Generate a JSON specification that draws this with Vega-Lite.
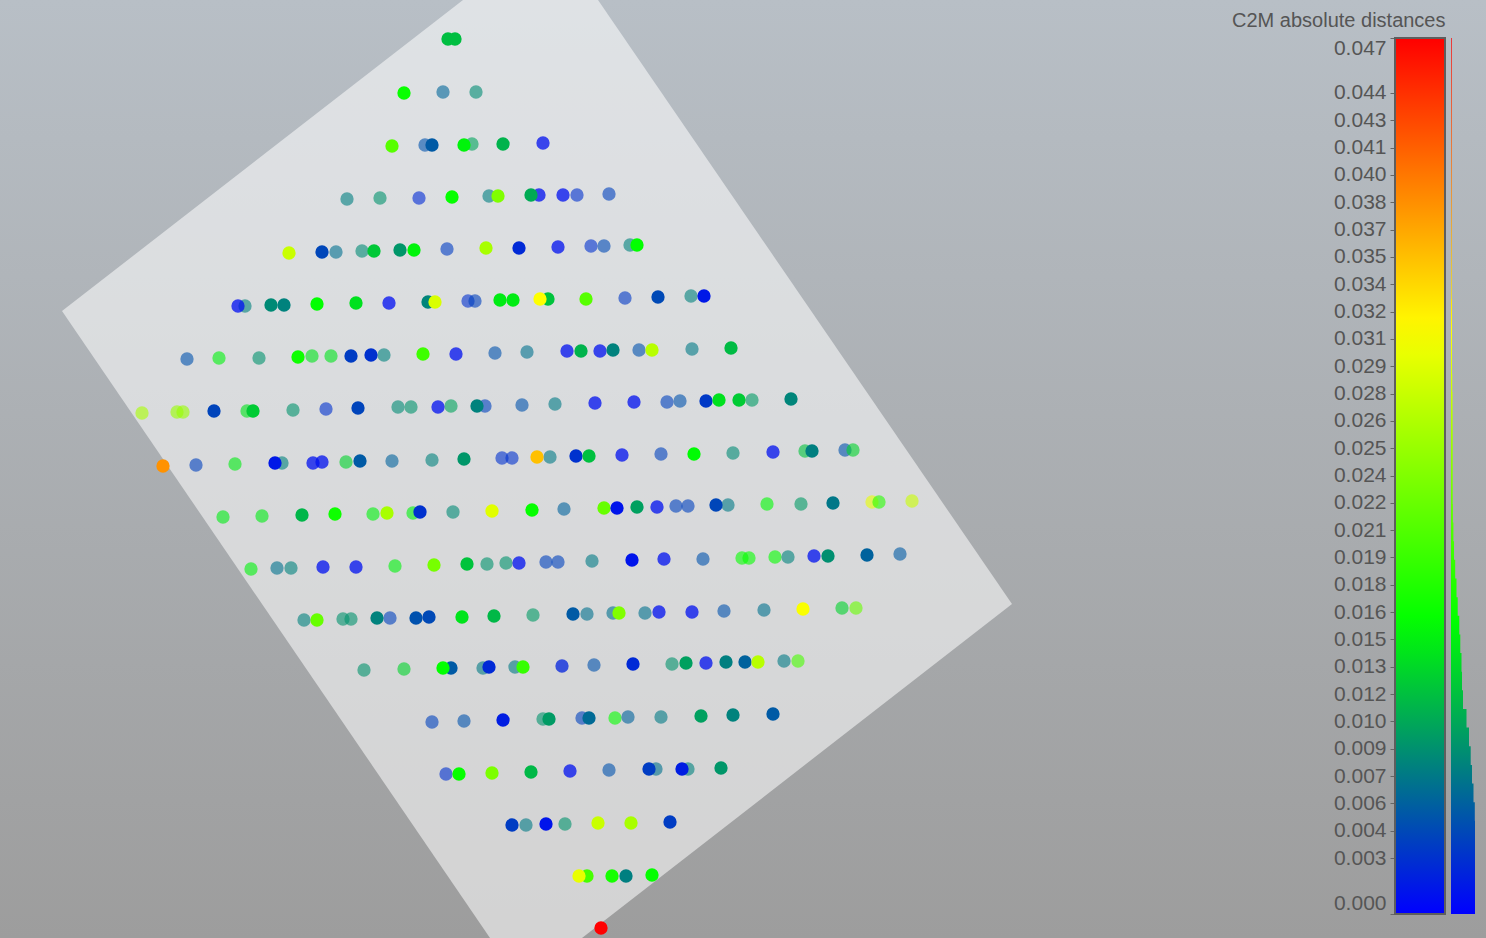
{
  "$schema": "https://vega.github.io/schema/vega-lite/v6.json",
  "width": 1486,
  "height": 938,
  "padding": 0,
  "autosize": {"type": "none"},
  "background": "#aeb2b6",
  "view": {
    "stroke": null,
    "fill": {"gradient": "linear", "x1": 0, "y1": 0, "x2": 0, "y2": 1,
      "stops": [{"offset": 0, "color": "#b8bfc6"}, {"offset": 1, "color": "#9d9d9d"}]}
  },
  "config": {"font": "Liberation Sans", "view": {"stroke": null}},
  "datasets": {
    "pts": [
      {"x":448,"y":39,"d":0.0117,"side":"front"},{"x":455,"y":39,"d":0.0117,"side":"front"},
      {"x":404,"y":93,"d":0.0162,"side":"front"},{"x":443,"y":92,"d":0.0062,"side":"behind"},{"x":476,"y":92,"d":0.0086,"side":"behind"},
      {"x":392,"y":146,"d":0.021,"side":"front"},{"x":425,"y":145,"d":0.005,"side":"behind"},{"x":432,"y":145,"d":0.0055,"side":"front"},{"x":472,"y":144,"d":0.01,"side":"behind"},{"x":464,"y":145,"d":0.015,"side":"front"},{"x":503,"y":144,"d":0.011,"side":"front"},{"x":543,"y":143,"d":0.001,"side":"onplane"},
      {"x":347,"y":199,"d":0.0078,"side":"behind"},{"x":380,"y":198,"d":0.009,"side":"behind"},{"x":419,"y":198,"d":0.0025,"side":"behind"},{"x":452,"y":197,"d":0.016,"side":"front"},{"x":489,"y":196,"d":0.0078,"side":"behind"},{"x":498,"y":196,"d":0.0235,"side":"front"},{"x":539,"y":195,"d":0.001,"side":"onplane"},{"x":531,"y":195,"d":0.0105,"side":"front"},{"x":563,"y":195,"d":0.001,"side":"onplane"},{"x":577,"y":195,"d":0.003,"side":"behind"},{"x":609,"y":194,"d":0.004,"side":"behind"},
      {"x":289,"y":253,"d":0.028,"side":"front"},{"x":322,"y":252,"d":0.0043,"side":"front"},{"x":336,"y":252,"d":0.0068,"side":"behind"},{"x":362,"y":251,"d":0.0085,"side":"behind"},{"x":374,"y":251,"d":0.0123,"side":"front"},{"x":400,"y":250,"d":0.0092,"side":"front"},{"x":414,"y":250,"d":0.015,"side":"front"},{"x":447,"y":249,"d":0.0037,"side":"behind"},{"x":486,"y":248,"d":0.026,"side":"front"},{"x":519,"y":248,"d":0.0025,"side":"front"},{"x":558,"y":247,"d":0.001,"side":"onplane"},{"x":591,"y":246,"d":0.003,"side":"behind"},{"x":604,"y":246,"d":0.0045,"side":"behind"},{"x":630,"y":245,"d":0.008,"side":"behind"},{"x":637,"y":245,"d":0.0158,"side":"front"},
      {"x":245,"y":306,"d":0.008,"side":"behind"},{"x":238,"y":306,"d":0.0008,"side":"onplane"},{"x":271,"y":305,"d":0.0085,"side":"front"},{"x":284,"y":305,"d":0.008,"side":"front"},{"x":317,"y":304,"d":0.0158,"side":"front"},{"x":356,"y":303,"d":0.0138,"side":"front"},{"x":389,"y":303,"d":0.0008,"side":"onplane"},{"x":428,"y":302,"d":0.0082,"side":"front"},{"x":435,"y":302,"d":0.029,"side":"front"},{"x":468,"y":301,"d":0.003,"side":"behind"},{"x":475,"y":301,"d":0.004,"side":"behind"},{"x":500,"y":300,"d":0.0145,"side":"front"},{"x":513,"y":300,"d":0.0145,"side":"front"},{"x":548,"y":299,"d":0.012,"side":"front"},{"x":540,"y":299,"d":0.0313,"side":"front"},{"x":586,"y":299,"d":0.021,"side":"front"},{"x":625,"y":298,"d":0.0035,"side":"behind"},{"x":658,"y":297,"d":0.0045,"side":"front"},{"x":691,"y":296,"d":0.008,"side":"behind"},{"x":704,"y":296,"d":0.0015,"side":"front"},
      {"x":187,"y":359,"d":0.005,"side":"behind"},{"x":219,"y":358,"d":0.015,"side":"behind"},{"x":259,"y":358,"d":0.009,"side":"behind"},{"x":312,"y":356,"d":0.014,"side":"behind"},{"x":298,"y":357,"d":0.0165,"side":"front"},{"x":331,"y":356,"d":0.014,"side":"behind"},{"x":351,"y":356,"d":0.0037,"side":"front"},{"x":384,"y":355,"d":0.008,"side":"behind"},{"x":371,"y":355,"d":0.003,"side":"front"},{"x":423,"y":354,"d":0.0195,"side":"front"},{"x":456,"y":354,"d":0.001,"side":"onplane"},{"x":495,"y":353,"d":0.005,"side":"behind"},{"x":527,"y":352,"d":0.007,"side":"behind"},{"x":567,"y":351,"d":0.001,"side":"onplane"},{"x":581,"y":351,"d":0.011,"side":"front"},{"x":600,"y":351,"d":0.001,"side":"onplane"},{"x":613,"y":350,"d":0.008,"side":"front"},{"x":639,"y":350,"d":0.005,"side":"behind"},{"x":652,"y":350,"d":0.027,"side":"front"},{"x":692,"y":349,"d":0.0075,"side":"behind"},{"x":731,"y":348,"d":0.0115,"side":"front"},
      {"x":142,"y":413,"d":0.026,"side":"behind"},{"x":177,"y":412,"d":0.025,"side":"behind"},{"x":183,"y":412,"d":0.025,"side":"behind"},{"x":214,"y":411,"d":0.0042,"side":"front"},{"x":247,"y":411,"d":0.014,"side":"behind"},{"x":253,"y":411,"d":0.0125,"side":"front"},{"x":293,"y":410,"d":0.009,"side":"behind"},{"x":326,"y":409,"d":0.003,"side":"behind"},{"x":358,"y":408,"d":0.0042,"side":"front"},{"x":398,"y":407,"d":0.0085,"side":"behind"},{"x":411,"y":407,"d":0.009,"side":"behind"},{"x":438,"y":407,"d":0.001,"side":"onplane"},{"x":451,"y":406,"d":0.01,"side":"behind"},{"x":485,"y":406,"d":0.004,"side":"behind"},{"x":477,"y":406,"d":0.008,"side":"front"},{"x":522,"y":405,"d":0.005,"side":"behind"},{"x":555,"y":404,"d":0.0075,"side":"behind"},{"x":595,"y":403,"d":0.001,"side":"onplane"},{"x":634,"y":402,"d":0.001,"side":"onplane"},{"x":667,"y":402,"d":0.004,"side":"behind"},{"x":680,"y":401,"d":0.005,"side":"behind"},{"x":706,"y":401,"d":0.0035,"side":"front"},{"x":719,"y":400,"d":0.0138,"side":"front"},{"x":739,"y":400,"d":0.0125,"side":"front"},{"x":752,"y":400,"d":0.0095,"side":"behind"},{"x":791,"y":399,"d":0.0082,"side":"front"},
      {"x":163,"y":466,"d":0.038,"side":"front"},{"x":196,"y":465,"d":0.004,"side":"behind"},{"x":235,"y":464,"d":0.0145,"side":"behind"},{"x":282,"y":463,"d":0.008,"side":"behind"},{"x":275,"y":463,"d":0.0015,"side":"front"},{"x":313,"y":463,"d":0.001,"side":"onplane"},{"x":322,"y":462,"d":0.001,"side":"onplane"},{"x":346,"y":462,"d":0.013,"side":"behind"},{"x":360,"y":461,"d":0.0055,"side":"front"},{"x":392,"y":461,"d":0.006,"side":"behind"},{"x":432,"y":460,"d":0.008,"side":"behind"},{"x":464,"y":459,"d":0.0092,"side":"front"},{"x":502,"y":458,"d":0.003,"side":"behind"},{"x":512,"y":458,"d":0.003,"side":"behind"},{"x":550,"y":457,"d":0.0075,"side":"behind"},{"x":537,"y":457,"d":0.0352,"side":"front"},{"x":576,"y":456,"d":0.003,"side":"front"},{"x":589,"y":456,"d":0.0118,"side":"front"},{"x":622,"y":455,"d":0.001,"side":"onplane"},{"x":661,"y":454,"d":0.004,"side":"behind"},{"x":694,"y":454,"d":0.0155,"side":"front"},{"x":733,"y":453,"d":0.0085,"side":"behind"},{"x":773,"y":452,"d":0.001,"side":"onplane"},{"x":805,"y":451,"d":0.012,"side":"behind"},{"x":812,"y":451,"d":0.0078,"side":"front"},{"x":845,"y":450,"d":0.005,"side":"behind"},{"x":853,"y":450,"d":0.013,"side":"behind"},
      {"x":223,"y":517,"d":0.0145,"side":"behind"},{"x":262,"y":516,"d":0.0145,"side":"behind"},{"x":302,"y":515,"d":0.0112,"side":"front"},{"x":335,"y":514,"d":0.0165,"side":"front"},{"x":373,"y":514,"d":0.015,"side":"behind"},{"x":387,"y":513,"d":0.026,"side":"front"},{"x":413,"y":513,"d":0.015,"side":"behind"},{"x":420,"y":512,"d":0.003,"side":"front"},{"x":453,"y":512,"d":0.0085,"side":"behind"},{"x":492,"y":511,"d":0.0295,"side":"front"},{"x":532,"y":510,"d":0.016,"side":"front"},{"x":564,"y":509,"d":0.006,"side":"behind"},{"x":604,"y":508,"d":0.022,"side":"front"},{"x":617,"y":508,"d":0.0012,"side":"front"},{"x":637,"y":507,"d":0.0098,"side":"front"},{"x":657,"y":507,"d":0.001,"side":"onplane"},{"x":676,"y":506,"d":0.004,"side":"behind"},{"x":688,"y":506,"d":0.004,"side":"behind"},{"x":728,"y":505,"d":0.0075,"side":"behind"},{"x":716,"y":505,"d":0.0043,"side":"front"},{"x":767,"y":504,"d":0.0155,"side":"behind"},{"x":801,"y":504,"d":0.0095,"side":"behind"},{"x":833,"y":503,"d":0.0073,"side":"front"},{"x":872,"y":502,"d":0.03,"side":"behind"},{"x":879,"y":502,"d":0.018,"side":"behind"},{"x":912,"y":501,"d":0.028,"side":"behind"},
      {"x":251,"y":569,"d":0.015,"side":"behind"},{"x":277,"y":568,"d":0.007,"side":"behind"},{"x":291,"y":568,"d":0.008,"side":"behind"},{"x":323,"y":567,"d":0.001,"side":"onplane"},{"x":356,"y":567,"d":0.001,"side":"onplane"},{"x":395,"y":566,"d":0.015,"side":"behind"},{"x":434,"y":565,"d":0.023,"side":"front"},{"x":467,"y":564,"d":0.012,"side":"front"},{"x":487,"y":564,"d":0.009,"side":"behind"},{"x":506,"y":563,"d":0.009,"side":"behind"},{"x":519,"y":563,"d":0.001,"side":"onplane"},{"x":546,"y":562,"d":0.004,"side":"behind"},{"x":558,"y":562,"d":0.004,"side":"behind"},{"x":592,"y":561,"d":0.0075,"side":"behind"},{"x":632,"y":560,"d":0.0012,"side":"front"},{"x":664,"y":559,"d":0.001,"side":"onplane"},{"x":703,"y":559,"d":0.005,"side":"behind"},{"x":742,"y":558,"d":0.016,"side":"behind"},{"x":749,"y":558,"d":0.016,"side":"behind"},{"x":775,"y":557,"d":0.016,"side":"behind"},{"x":788,"y":557,"d":0.008,"side":"behind"},{"x":814,"y":556,"d":0.001,"side":"onplane"},{"x":828,"y":556,"d":0.0088,"side":"front"},{"x":867,"y":555,"d":0.006,"side":"front"},{"x":900,"y":554,"d":0.0055,"side":"behind"},
      {"x":304,"y":620,"d":0.008,"side":"behind"},{"x":317,"y":620,"d":0.022,"side":"front"},{"x":343,"y":619,"d":0.009,"side":"behind"},{"x":351,"y":619,"d":0.009,"side":"behind"},{"x":390,"y":618,"d":0.004,"side":"behind"},{"x":377,"y":618,"d":0.008,"side":"front"},{"x":416,"y":618,"d":0.005,"side":"front"},{"x":429,"y":617,"d":0.0045,"side":"front"},{"x":462,"y":617,"d":0.014,"side":"front"},{"x":494,"y":616,"d":0.0113,"side":"front"},{"x":533,"y":615,"d":0.0095,"side":"behind"},{"x":587,"y":614,"d":0.007,"side":"behind"},{"x":573,"y":614,"d":0.0055,"side":"front"},{"x":613,"y":613,"d":0.007,"side":"behind"},{"x":619,"y":613,"d":0.0235,"side":"front"},{"x":645,"y":613,"d":0.007,"side":"behind"},{"x":659,"y":612,"d":0.001,"side":"onplane"},{"x":692,"y":612,"d":0.001,"side":"onplane"},{"x":724,"y":611,"d":0.005,"side":"behind"},{"x":764,"y":610,"d":0.007,"side":"behind"},{"x":803,"y":609,"d":0.031,"side":"front"},{"x":842,"y":608,"d":0.013,"side":"behind"},{"x":856,"y":608,"d":0.022,"side":"behind"},
      {"x":364,"y":670,"d":0.009,"side":"behind"},{"x":404,"y":669,"d":0.013,"side":"behind"},{"x":451,"y":668,"d":0.0055,"side":"front"},{"x":443,"y":668,"d":0.0158,"side":"front"},{"x":483,"y":668,"d":0.0075,"side":"behind"},{"x":489,"y":667,"d":0.0025,"side":"front"},{"x":515,"y":667,"d":0.0075,"side":"behind"},{"x":523,"y":667,"d":0.019,"side":"front"},{"x":562,"y":666,"d":0.002,"side":"onplane"},{"x":594,"y":665,"d":0.005,"side":"behind"},{"x":633,"y":664,"d":0.0025,"side":"front"},{"x":672,"y":664,"d":0.009,"side":"behind"},{"x":686,"y":663,"d":0.0098,"side":"front"},{"x":706,"y":663,"d":0.001,"side":"onplane"},{"x":726,"y":662,"d":0.0078,"side":"front"},{"x":745,"y":662,"d":0.006,"side":"front"},{"x":758,"y":662,"d":0.027,"side":"front"},{"x":784,"y":661,"d":0.0075,"side":"behind"},{"x":798,"y":661,"d":0.02,"side":"behind"},
      {"x":432,"y":722,"d":0.004,"side":"behind"},{"x":464,"y":721,"d":0.005,"side":"behind"},{"x":503,"y":720,"d":0.0018,"side":"front"},{"x":543,"y":719,"d":0.009,"side":"behind"},{"x":549,"y":719,"d":0.0095,"side":"front"},{"x":582,"y":718,"d":0.004,"side":"behind"},{"x":589,"y":718,"d":0.0065,"side":"front"},{"x":615,"y":718,"d":0.016,"side":"behind"},{"x":628,"y":717,"d":0.006,"side":"behind"},{"x":661,"y":717,"d":0.0075,"side":"behind"},{"x":701,"y":716,"d":0.0098,"side":"front"},{"x":733,"y":715,"d":0.008,"side":"front"},{"x":773,"y":714,"d":0.0055,"side":"front"},
      {"x":446,"y":774,"d":0.003,"side":"behind"},{"x":459,"y":774,"d":0.016,"side":"front"},{"x":492,"y":773,"d":0.0233,"side":"front"},{"x":531,"y":772,"d":0.0113,"side":"front"},{"x":570,"y":771,"d":0.001,"side":"onplane"},{"x":609,"y":770,"d":0.005,"side":"behind"},{"x":656,"y":769,"d":0.007,"side":"behind"},{"x":649,"y":769,"d":0.0037,"side":"front"},{"x":688,"y":769,"d":0.008,"side":"behind"},{"x":682,"y":769,"d":0.0018,"side":"front"},{"x":721,"y":768,"d":0.0092,"side":"front"},
      {"x":526,"y":825,"d":0.0075,"side":"behind"},{"x":512,"y":825,"d":0.0037,"side":"front"},{"x":546,"y":824,"d":0.0012,"side":"front"},{"x":565,"y":824,"d":0.009,"side":"behind"},{"x":598,"y":823,"d":0.028,"side":"front"},{"x":631,"y":823,"d":0.026,"side":"front"},{"x":670,"y":822,"d":0.0037,"side":"front"},
      {"x":587,"y":876,"d":0.02,"side":"front"},{"x":579,"y":876,"d":0.03,"side":"front"},{"x":612,"y":876,"d":0.017,"side":"front"},{"x":626,"y":876,"d":0.0078,"side":"front"},{"x":652,"y":875,"d":0.016,"side":"front"},
      {"x":601,"y":928,"d":0.047,"side":"front"}
    ],
    "plane": [
      {"i":0,"x":62,"y":311},{"i":1,"x":463,"y":0},{"i":2,"x":598,"y":0},{"i":3,"x":1012,"y":604},{"i":4,"x":582,"y":938},{"i":5,"x":490,"y":938},{"i":6,"x":62,"y":311}
    ],
    "hist": [
      {"b0":0,"n":240},{"b0":0.001,"n":240},{"b0":0.002,"n":240},{"b0":0.003,"n":240},{"b0":0.004,"n":240},{"b0":0.005,"n":238},{"b0":0.006,"n":225},{"b0":0.007,"n":210},{"b0":0.008,"n":197},{"b0":0.009,"n":180},
      {"b0":0.01,"n":155},{"b0":0.011,"n":120},{"b0":0.012,"n":110},{"b0":0.013,"n":105},{"b0":0.014,"n":93},{"b0":0.015,"n":83},{"b0":0.016,"n":67},{"b0":0.017,"n":55},{"b0":0.018,"n":42},{"b0":0.019,"n":30},
      {"b0":0.02,"n":24},{"b0":0.021,"n":19},{"b0":0.022,"n":17},{"b0":0.023,"n":17},{"b0":0.024,"n":17},{"b0":0.025,"n":17},{"b0":0.026,"n":16},{"b0":0.027,"n":15},{"b0":0.028,"n":12},{"b0":0.029,"n":10},
      {"b0":0.03,"n":10},{"b0":0.031,"n":10},{"b0":0.032,"n":10},{"b0":0.033,"n":7},{"b0":0.034,"n":7},{"b0":0.035,"n":7},{"b0":0.036,"n":7},{"b0":0.037,"n":7},{"b0":0.038,"n":7},{"b0":0.039,"n":7},
      {"b0":0.04,"n":7},{"b0":0.041,"n":7},{"b0":0.042,"n":7},{"b0":0.043,"n":7},{"b0":0.044,"n":7},{"b0":0.045,"n":7},{"b0":0.046,"n":7},{"b0":0.047,"n":7}
    ]
  },
  "layer": [
    {
      "data": {"name": "plane"},
      "mark": {"type": "line", "fill": "#ffffff", "fillOpacity": 0.55, "strokeOpacity": 0, "strokeWidth": 0},
      "encoding": {
        "x": {"field": "x", "type": "quantitative", "scale": {"domain": [0, 1486], "nice": false, "zero": false}, "axis": null},
        "y": {"field": "y", "type": "quantitative", "scale": {"domain": [0, 938], "reverse": true, "nice": false, "zero": false}, "axis": null},
        "order": {"field": "i", "type": "quantitative"}
      }
    },
    {
      "data": {"name": "pts"},
      "transform": [{"filter": "datum.side == 'behind'"}],
      "mark": {"type": "circle", "size": 177, "opacity": 1, "fillOpacity": 0.6},
      "encoding": {
        "x": {"field": "x", "type": "quantitative", "scale": {"domain": [0, 1486], "nice": false, "zero": false}, "axis": null},
        "y": {"field": "y", "type": "quantitative", "scale": {"domain": [0, 938], "reverse": true, "nice": false, "zero": false}, "axis": null},
        "color": {"field": "d", "type": "quantitative",
          "scale": {"type": "linear", "domain": [0, 0.015667, 0.031333, 0.047], "range": ["#0000ff", "#00ff00", "#ffff00", "#ff0000"], "interpolate": "rgb"},
          "legend": null}
      }
    },
    {
      "data": {"name": "pts"},
      "transform": [{"filter": "datum.side != 'behind'"}],
      "mark": {"type": "circle", "size": 177, "opacity": 1},
      "encoding": {
        "x": {"field": "x", "type": "quantitative", "scale": {"domain": [0, 1486], "nice": false, "zero": false}, "axis": null},
        "y": {"field": "y", "type": "quantitative", "scale": {"domain": [0, 938], "reverse": true, "nice": false, "zero": false}, "axis": null},
        "color": {"field": "d", "type": "quantitative",
          "scale": {"type": "linear", "domain": [0, 0.015667, 0.031333, 0.047], "range": ["#0000ff", "#00ff00", "#ffff00", "#ff0000"], "interpolate": "rgb"},
          "legend": {"type": "gradient", "orient": "none", "legendX": 1395, "legendY": 38, "direction": "vertical", "gradientLength": 876, "gradientThickness": 50, "gradientStrokeColor": "#5e5e5e", "gradientStrokeWidth": 2, "title": null, "labelOpacity": 0, "labelExpr": "''", "padding": 0}},
        "opacity": {"field": "side", "type": "nominal", "scale": {"domain": ["front", "onplane"], "range": [1, 0.75]}, "legend": null}
      }
    },
    {
      "data": {"name": "hist"},
      "mark": {"type": "area", "orient": "horizontal", "interpolate": "step-after",
        "fill": {"gradient": "linear", "x1": 0, "y1": 1, "x2": 0, "y2": 0,
          "stops": [{"offset": 0, "color": "#0000ff"}, {"offset": 0.3333, "color": "#00ff00"}, {"offset": 0.6667, "color": "#ffff00"}, {"offset": 1, "color": "#ff0000"}]}},
      "encoding": {
        "x": {"field": "n", "type": "quantitative", "scale": {"domain": [-14510, 350], "nice": false, "zero": false}, "axis": null},
        "x2": {"datum": 0},
        "y": {"field": "b0", "type": "quantitative",
          "scale": {"domain": [-0.001288, 0.049038], "nice": false, "zero": false},
          "axis": {
            "orient": "left", "offset": -1395, "domain": false, "grid": false,
            "values": [0, 0.003002, 0.004468, 0.005934, 0.0074, 0.008866, 0.010332, 0.011798, 0.013264, 0.01473, 0.016196, 0.017662, 0.019128, 0.020594, 0.02206, 0.023526, 0.024992, 0.026458, 0.027924, 0.02939, 0.030856, 0.032322, 0.033788, 0.035254, 0.03672, 0.038186, 0.039652, 0.041118, 0.042584, 0.04405, 0.047],
            "format": ".3f", "ticks": true, "tickSize": 5, "tickColor": "#666666", "tickWidth": 1,
            "labelPadding": 4, "labelFontSize": 21, "labelColor": "#555555", "labelFont": "Liberation Sans",
            "labelFlush": 45, "labelOverlap": false,
            "title": "C2M absolute distances", "titleAngle": 0, "titleX": 50, "titleY": 26, "titleAlign": "right", "titleBaseline": "alphabetic",
            "titleFontSize": 20, "titleFontWeight": "normal", "titleColor": "#555555", "titleFont": "Liberation Sans"
          }
        }
      }
    }
  ],
  "resolve": {"scale": {"x": "independent", "y": "independent", "color": "independent"}}
}
